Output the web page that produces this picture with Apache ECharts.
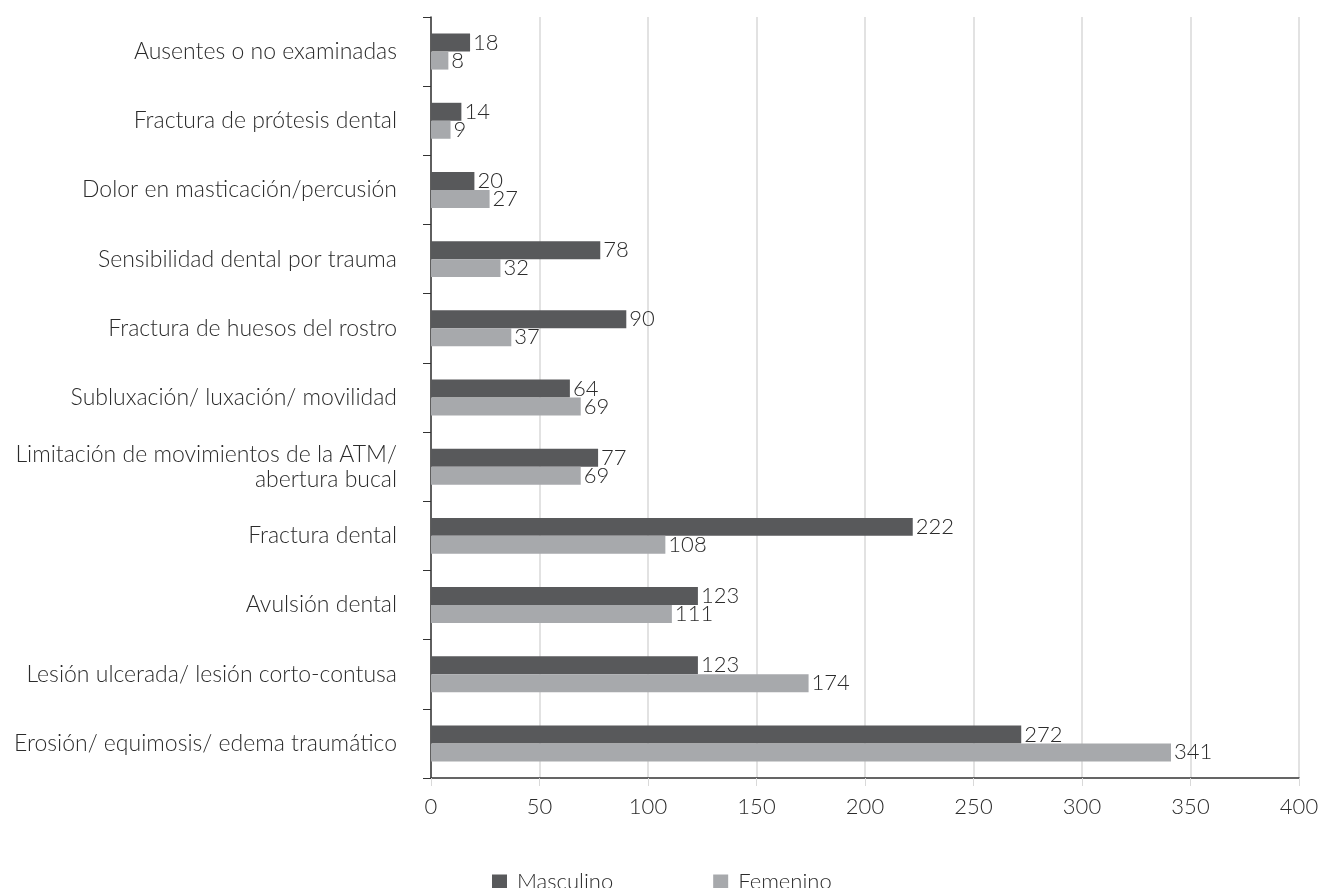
<!DOCTYPE html>
<html>
<head>
<meta charset="utf-8">
<script src="https://cdn.jsdelivr.net/npm/echarts@6/dist/echarts.min.js"></script>
<style>
  html, body { margin: 0; padding: 0; background: #fff; }
  #chart { width: 1323px; height: 888px; }
</style>
</head>
<body>
<div id="chart"></div>
<script>
// categorias de arriba hacia abajo
var categorias = [
  'Ausentes o no examinadas',
  'Fractura de prótesis dental',
  'Dolor en masticación/percusión',
  'Sensibilidad dental por trauma',
  'Fractura de huesos del rostro',
  'Subluxación/ luxación/ movilidad',
  'Limitación de movimientos de la ATM/\nabertura bucal',
  'Fractura dental',
  'Avulsión dental',
  'Lesión ulcerada/ lesión corto-contusa',
  'Erosión/ equimosis/ edema traumático'
];
var masculino = [18, 14, 20, 78, 90, 64, 77, 222, 123, 123, 272];
var femenino = [8, 9, 27, 32, 37, 69, 69, 108, 111, 174, 341];
var ticks = [0, 50, 100, 150, 200, 250, 300, 350, 400];

var fuente = 'Lato';
var peso = 300;
var chart = echarts.init(document.getElementById('chart'), null, {renderer: 'canvas'});

var etiqueta = {
  show: true,
  position: 'right',
  distance: 3,
  color: '#2b2b2b',
  fontFamily: fuente,
  fontWeight: peso,
  fontSize: 22
};

chart.setOption({
  animation: false,
  textStyle: {fontFamily: fuente},
  grid: {left: 431, right: 24, top: 17, bottom: 110, containLabel: false},
  legend: {
    data: ['Masculino', 'Femenino'],
    top: 866,
    left: 487,
    itemWidth: 15,
    itemHeight: 15,
    itemGap: 100,
    icon: 'rect',
    textStyle: {fontFamily: fuente, fontWeight: peso, fontSize: 22, color: '#2b2b2b', padding: [0, 0, 0, 5]}
  },
  xAxis: {
    type: 'value',
    min: ticks[0],
    max: ticks[ticks.length - 1],
    interval: 50,
    axisLine: {show: true, lineStyle: {color: '#333', width: 1.5}},
    axisTick: {show: true, length: 8, lineStyle: {color: '#d9d9d9'}},
    splitLine: {show: true, lineStyle: {color: '#d9d9d9', width: 1.5}},
    axisLabel: {color: '#2b2b2b', fontSize: 22, fontWeight: peso, fontFamily: fuente, margin: 18}
  },
  yAxis: {
    type: 'category',
    inverse: true,
    data: categorias,
    axisLine: {show: true, lineStyle: {color: '#333', width: 1.5}},
    axisTick: {show: true, length: 8, lineStyle: {color: '#333'}},
    axisLabel: {color: '#2b2b2b', fontSize: 23, fontWeight: peso, fontFamily: fuente, margin: 34, lineHeight: 25, align: 'right'}
  },
  series: [
    {
      name: 'Masculino',
      type: 'bar',
      data: masculino,
      barGap: '0%',
      barCategoryGap: '48%',
      itemStyle: {color: '#58595b'},
      label: etiqueta
    },
    {
      name: 'Femenino',
      type: 'bar',
      data: femenino,
      itemStyle: {color: '#a7a9ac'},
      label: etiqueta
    }
  ]
});
</script>
</body>
</html>
